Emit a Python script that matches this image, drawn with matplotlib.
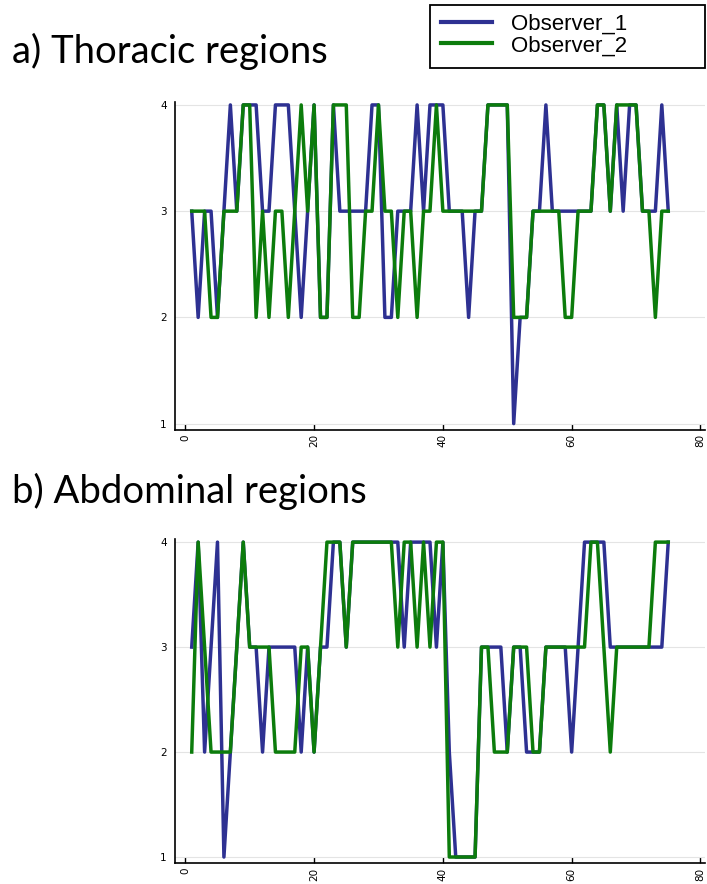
import matplotlib
matplotlib.use("Agg")
import matplotlib.pyplot as plt
from matplotlib.patches import Rectangle

# case number (1..75) on the x axis
cases = list(range(1, 76))

# a) thoracic regions, score per case
thor_obs1 = [3, 2, 3, 3, 2, 3, 4, 3, 4, 4,
             4, 3, 3, 4, 4, 4, 3, 2, 3, 4,
             2, 2, 4, 3, 3, 3, 3, 3, 4, 4,
             2, 2, 3, 3, 3, 4, 3, 4, 4, 4,
             3, 3, 3, 2, 3, 3, 4, 4, 4, 4,
             1, 2, 2, 3, 3, 4, 3, 3, 3, 3,
             3, 3, 3, 4, 4, 3, 4, 3, 4, 4,
             3, 3, 3, 4, 3]
thor_obs2 = [3, 3, 3, 2, 2, 3, 3, 3, 4, 4,
             2, 3, 2, 3, 3, 2, 3, 4, 3, 4,
             2, 2, 4, 4, 4, 2, 2, 3, 3, 4,
             3, 3, 2, 3, 3, 2, 3, 3, 4, 3,
             3, 3, 3, 3, 3, 3, 4, 4, 4, 4,
             2, 2, 2, 3, 3, 3, 3, 3, 2, 2,
             3, 3, 3, 4, 4, 3, 4, 4, 4, 4,
             3, 3, 2, 3, 3]

# b) abdominal regions
abd_obs1 = [3, 4, 2, 3, 4, 1, 2, 3, 4, 3,
            3, 2, 3, 3, 3, 3, 3, 2, 3, 2,
            3, 3, 4, 4, 3, 4, 4, 4, 4, 4,
            4, 4, 4, 3, 4, 4, 4, 4, 3, 4,
            2, 1, 1, 1, 1, 3, 3, 3, 3, 2,
            3, 3, 2, 2, 2, 3, 3, 3, 3, 2,
            3, 4, 4, 4, 4, 3, 3, 3, 3, 3,
            3, 3, 3, 3, 4]
abd_obs2 = [2, 4, 3, 2, 2, 2, 2, 3, 4, 3,
            3, 3, 3, 2, 2, 2, 2, 3, 3, 2,
            3, 4, 4, 4, 3, 4, 4, 4, 4, 4,
            4, 4, 3, 4, 4, 3, 4, 3, 4, 4,
            1, 1, 1, 1, 1, 3, 3, 2, 2, 2,
            3, 3, 3, 2, 2, 3, 3, 3, 3, 3,
            3, 3, 4, 4, 3, 2, 3, 3, 3, 3,
            3, 3, 4, 4, 4]

x_ticks = [0, 20, 40, 60, 80]
y_ticks = [1, 2, 3, 4]
titles = ['a) Thoracic regions', 'b) Abdominal regions']
labels = ['Observer_1', 'Observer_2']

c_obs1 = '#2e3192'
c_obs2 = '#0c7c0c'

fig = plt.figure(figsize=(7.07, 8.84), dpi=100)
ax_top = fig.add_axes([0.2475, 0.5136, 0.7496, 0.3713])
ax_bot = fig.add_axes([0.2475, 0.0234, 0.7496, 0.3669])


def panel(ax, s1, s2):
    ax.plot(cases, s1, color=c_obs1, lw=2.5, label=labels[0])
    ax.plot(cases, s2, color=c_obs2, lw=2.5, label=labels[1])
    ax.set_xlim(-1.6, 80.7)
    ax.set_ylim(0.94, 4.03)
    ax.set_xticks(x_ticks)
    ax.set_yticks(y_ticks)
    ax.grid(axis='y', color='#e4e4e4', lw=0.8)
    ax.set_axisbelow(True)
    for s in ['top', 'right']:
        ax.spines[s].set_visible(False)
    for s in ['left', 'bottom']:
        ax.spines[s].set_linewidth(1.2)
    ax.tick_params(axis='x', direction='in', length=4, width=1, labelsize=7.5,
                   labelrotation=90, pad=3)
    ax.tick_params(axis='y', direction='in', length=0, labelsize=7.5, pad=6)


panel(ax_top, thor_obs1, thor_obs2)
panel(ax_bot, abd_obs1, abd_obs2)

fig.text(0.017, 0.942, titles[0], fontsize=27.5, family='Lato', va='center', ha='left')
fig.text(0.017, 0.444, titles[1], fontsize=27.5, family='Lato', va='center', ha='left')

# legend box drawn by hand so it can be wider than its content
W, H = 707, 884
fig.patches.append(Rectangle((430 / W, 1 - 68 / H), 275 / W, 63 / H,
                             transform=fig.transFigure, fill=False,
                             edgecolor='black', lw=1.3))
h, l = ax_top.get_legend_handles_labels()
leg = fig.legend(h, l, loc='center left', bbox_to_anchor=(441 / W, 1 - 35 / H),
                 prop={'family': 'Liberation Sans', 'size': 16},
                 frameon=False, handlelength=2.3, borderpad=0,
                 labelspacing=0.02, handletextpad=0.85, borderaxespad=0)
for ln in leg.get_lines():
    ln.set_linewidth(3)

fig.savefig('out.png', dpi=100)
